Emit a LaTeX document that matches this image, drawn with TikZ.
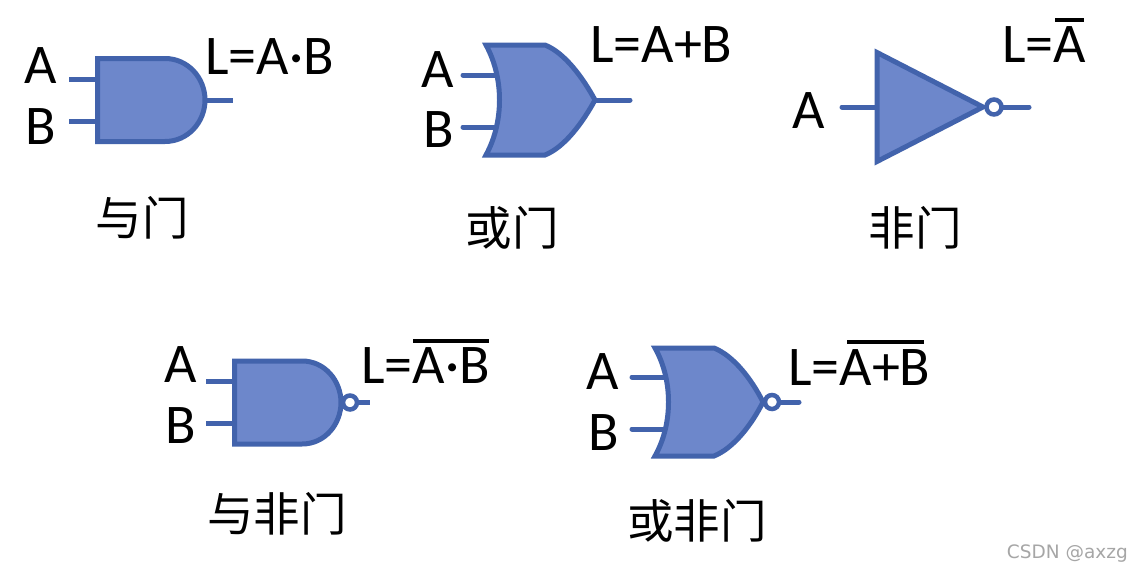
\documentclass[tikz,border=0pt]{standalone}
\usepackage{fontspec}
\setmainfont{Carlito}
\newfontfamily\cjk{Noto Sans CJK SC}
\newfontfamily\wmfont{DejaVu Sans}
\definecolor{gatefill}{HTML}{6D87CB}
\definecolor{gateline}{HTML}{4263AC}
\tikzset{
  gate/.style={draw=gateline,fill=gatefill,line width=5pt,line join=miter},
  wire/.style={draw=gateline,line width=5pt},
  bubble/.style={circle,draw=gateline,fill=white,line width=4.5pt,minimum size=15pt,inner sep=0pt},
  sym/.style={font=\fontsize{56}{56}\selectfont,anchor=base west,inner sep=0pt,text=black},
  cap label/.style={font=\cjk\fontsize{46.5}{46.5}\selectfont,anchor=center,inner sep=0pt,text=black},
  bar/.style={draw=black,line width=3.5pt},
  mark text/.style={font=\wmfont\fontsize{18.5}{18.5}\selectfont,anchor=base east,inner sep=0pt,text=black!35}
}
\begin{document}
\begin{tikzpicture}[x=1pt,y=-1pt]
\useasboundingbox (0,0) rectangle (1132,570);
\fill[white] (0,0) rectangle (1132,570);

% AND
\coordinate (a1) at (69,79.5); \coordinate (a1e) at (97,79.5);
\coordinate (a2) at (69,121);  \coordinate (a2e) at (97,121);
\coordinate (ao) at (205,100); \coordinate (aoe) at (233,100);
\draw[wire] (a1) -- (a1e); \draw[wire] (a2) -- (a2e); \draw[wire] (ao) -- (aoe);
\draw[gate] (97.5,58.5) -- (165,58.5) .. controls (188,58.5) and (205,78) .. (205,100)
  .. controls (205,122) and (188,141.5) .. (165,141.5) -- (97.5,141.5) -- cycle;
\node[sym] (tA1) at (24,83) {A};
\node[sym] (tB1) at (25,144) {B};
\node[sym] (tL1) at (205,74) {L=A·B};
\node[cap label] (c1) at (142,218) {与门};

% OR
\coordinate (o1) at (463,75); \coordinate (o1e) at (500,75);
\coordinate (o2) at (463,127); \coordinate (o2e) at (500,127);
\coordinate (oo) at (595,100); \coordinate (ooe) at (630,100);
\draw[wire,line cap=round] (o1) -- (o1e); \draw[wire,line cap=round] (o2) -- (o2e); \draw[wire,line cap=round] (oo) -- (ooe);
\draw[gate] (486,45) -- (545,45) .. controls (565,53) and (583,78) .. (595,100)
  .. controls (583,122) and (565,147) .. (545,155) -- (486,155)
  .. controls (504,122) and (504,78) .. cycle;
\node[sym] (tA2) at (421,87) {A};
\node[sym] (tB2) at (423,147) {B};
\node[sym] (tL2) at (590,62) {L=A+B};
\node[cap label] (c2) at (512,228) {或门};

% NOT
\coordinate (n1) at (842,107); \coordinate (n1e) at (877,107);
\coordinate (no) at (1000,107); \coordinate (noe) at (1029,107);
\draw[wire,line cap=round] (n1) -- (n1e); \draw[wire,line cap=round] (no) -- (noe);
\draw[gate] (877,52.5) -- (983,107) -- (877,161.5) -- cycle;
\node[bubble] (nb) at (994,107) {};
\node[sym] (tA3) at (792,128) {A};
\node[sym] (tL3) at (1002,62) {L=A};
\coordinate (b3l) at (1055,20); \coordinate (b3r) at (1084,20);
\draw[bar] (b3l) -- (b3r);
\node[cap label] (c3) at (915,228) {非门};

% NAND
\coordinate (d1) at (206,381.5); \coordinate (d1e) at (234,381.5);
\coordinate (d2) at (206,423); \coordinate (d2e) at (234,423);
\coordinate (doo) at (352,402.5); \coordinate (doe) at (370,402.5);
\draw[wire] (d1) -- (d1e); \draw[wire] (d2) -- (d2e); \draw[wire] (doo) -- (doe);
\draw[gate] (234.5,361) -- (302,361) .. controls (325,361) and (341,381) .. (341,402.5)
  .. controls (341,424) and (325,444) .. (302,444) -- (234.5,444) -- cycle;
\node[bubble,minimum size=14pt] (db) at (350,402.5) {};
\node[sym] (tA4) at (164,382) {A};
\node[sym] (tB4) at (165,443) {B};
\node[sym] (tL4) at (361,383) {L=A·B};
\coordinate (b4l) at (413,341); \coordinate (b4r) at (489,341);
\draw[bar] (b4l) -- (b4r);
\node[cap label] (c4) at (277,514) {与非门};

% NOR
\coordinate (r1) at (632,377); \coordinate (r1e) at (669,377);
\coordinate (r2) at (632,429); \coordinate (r2e) at (669,429);
\coordinate (roo) at (775,402); \coordinate (roe) at (799,402);
\draw[wire,line cap=round] (r1) -- (r1e); \draw[wire,line cap=round] (r2) -- (r2e); \draw[wire,line cap=round] (roo) -- (roe);
\draw[gate] (655,348) -- (714,348) .. controls (734,356) and (752,380) .. (763,402)
  .. controls (752,424) and (734,448) .. (714,456) -- (655,456)
  .. controls (673,424) and (673,380) .. cycle;
\node[bubble,minimum size=14pt] (rb) at (772,402) {};
\node[sym] (tA5) at (586,389) {A};
\node[sym] (tB5) at (588,450) {B};
\node[sym] (tL5) at (788,385) {L=A+B};
\coordinate (b5l) at (847,342); \coordinate (b5r) at (924,342);
\draw[bar] (b5l) -- (b5r);
\node[cap label] (c5) at (697,521) {或非门};

\node[mark text] (wm) at (1128,558) {CSDN @axzg};
\end{tikzpicture}
\end{document}
